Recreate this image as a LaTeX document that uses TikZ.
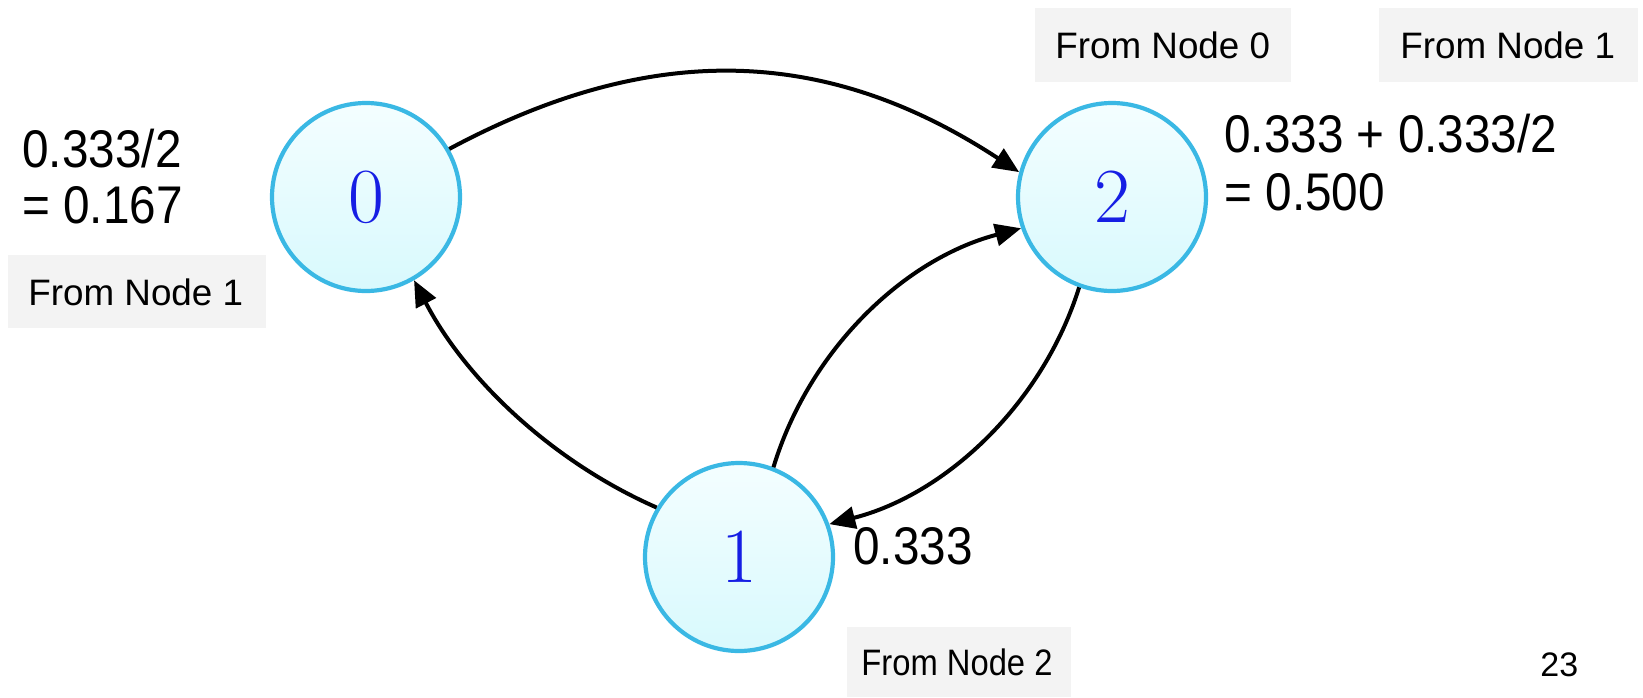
\documentclass[tikz,border=0pt]{standalone}
\usepackage{fontspec}
\usepackage{graphicx}
\newfontfamily\arialfont{Liberation Sans}
\newfontfamily\arialnarrow[FakeStretch=0.9]{Liberation Sans}
\usetikzlibrary{arrows.meta}
\definecolor{ring}{RGB}{58,184,228}
\definecolor{fillTop}{RGB}{244,254,255}
\definecolor{fillBot}{RGB}{216,249,253}
\definecolor{digit}{RGB}{22,30,228}
\definecolor{boxgrey}{RGB}{243,243,243}
\tikzset{
  state/.style={circle, draw=ring, line width=2.1pt, minimum size=94pt, inner sep=0pt,
    top color=fillTop, bottom color=fillBot, text=digit, font=\fontsize{39}{42}\selectfont},
  edge/.style={line width=2pt, -{Triangle[length=13pt,width=11pt]}},
  greybox/.style={fill=boxgrey, draw=none, inner sep=0pt, anchor=north west},
  boxtext/.style={anchor=west, inner sep=0pt, font=\arialfont\fontsize{18.4}{22}\selectfont},
  numtext/.style={anchor=base west, inner sep=0pt, font=\arialnarrow\fontsize{26.5}{30}\selectfont},
}
\begin{document}
\begin{tikzpicture}[x=0.5pt,y=-0.5pt]
\useasboundingbox (0,0) rectangle (1643,697);
% grey boxes
\node[greybox, minimum width=129pt, minimum height=36.5pt] (bl) at (8,255) {};
\node[greybox, minimum width=128pt, minimum height=37pt] (b0) at (1035,8) {};
\node[greybox, minimum width=129.5pt, minimum height=37pt] (br) at (1379,8) {};
\node[greybox, minimum width=112pt, minimum height=35pt] (b2) at (847,627) {};
\node[boxtext] (tl) at ([xshift=10pt]bl.west) {From Node 1};
\node[boxtext] (t0) at ([xshift=10pt]b0.west) {From Node 0};
\node[boxtext] (tr) at ([xshift=10.5pt]br.west) {From Node 1};
\node[boxtext] (t2) at ([xshift=7pt]b2.west) {\scalebox{0.89}[1]{From Node 2}};
% states
\node[state] (n0) at (366,197) {0};
\node[state] (n2) at (1112,197) {2};
\node[state] (n1) at (739,557) {1};
% edges
\draw[edge] (n0.30) .. controls (647,43) and (822,43) .. (n2.165);
\draw[edge] (n1.149) .. controls (553,462) and (466,380) .. (n0.-60);
\draw[edge] (n1.69) .. controls (809,350) and (904,259) .. (n2.199);
\draw[edge] (n2.250) .. controls (1043,403) and (947,494) .. (n1.20);
% labels
\node[numtext] (l0a) at (22,167) {0.333/2};
\node[numtext] (l0b) at (22,223) {= 0.167};
\node[numtext] (l2a) at (1224,152) {0.333 + 0.333/2};
\node[numtext] (l2b) at (1224,210) {= 0.500};
\node[numtext] (l1) at (853,564) {0.333};
\node[anchor=base west, inner sep=0pt, font=\arialfont\fontsize{17}{20}\selectfont] (pg) at (1540,676) {23};
\end{tikzpicture}
\end{document}
